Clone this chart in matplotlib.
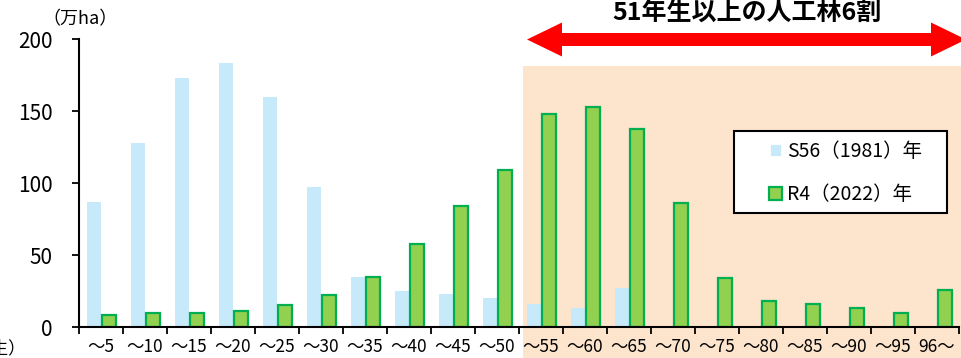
import matplotlib
matplotlib.use("Agg")
import matplotlib.pyplot as plt
from matplotlib.patches import Patch, Rectangle, FancyArrow
import numpy as np

plt.rcParams['font.family'] = ['Noto Sans CJK JP', 'DejaVu Sans']

# 齢級ごとの人工林面積（万ha）
age_labels = ["～5", "～10", "～15", "～20", "～25", "～30", "～35", "～40", "～45", "～50",
              "～55", "～60", "～65", "～70", "～75", "～80", "～85", "～90", "～95", "96～"]
area_1981 = [87, 128, 173, 183, 160, 97, 35, 25, 23, 20,
             16, 13, 27, 0, 0, 0, 0, 0, 0, 0]
area_2022 = [8, 10, 10, 11, 15.5, 22.5, 34.5, 57.5, 84, 109,
             148, 153, 137.5, 86, 34, 18, 16, 13.5, 10, 25.5]

label_1981 = "S56（1981）年"
label_2022 = "R4（2022）年"
title = "51年生以上の人工林6割"

c_1981 = "#C6EAF9"
c_2022 = "#92D050"
c_2022_edge = "#00B050"
c_band = "#FDE4CD"

W, H = 961, 358
fig = plt.figure(figsize=(W / 100, H / 100), dpi=100)
px = fig.dpi_scale_trans  # 1 unit = 100 px

ax = fig.add_axes([79 / W, 31 / H, 880 / W, 288 / H])
ax.patch.set_visible(False)

x = np.arange(len(age_labels))
ax.bar(x - 0.1625, area_1981, width=0.325, color=c_1981, zorder=2)
ax.bar(x + 0.18, area_2022, width=0.31, color=c_2022, edgecolor=c_2022_edge,
       linewidth=1.6, zorder=3)

ax.set_xlim(-0.5, len(age_labels) - 0.5)
ax.set_ylim(0, 200)
ax.set_yticks(range(0, 201, 50))

# 区切りの目盛りは齢級の境界、ラベルは中央
ax.set_xticks(np.arange(-0.5, len(age_labels), 1.0))
ax.set_xticklabels([])
ax.set_xticks(x, minor=True)
ax.set_xticklabels(age_labels, minor=True, fontsize=12.5)
ax.tick_params(axis='x', which='major', direction='out', length=5, width=1.3)
ax.tick_params(axis='x', which='minor', length=0, pad=8)
ax.tick_params(axis='y', direction='out', length=5, width=1.3, pad=14, labelsize=15)

for side in ("top", "right"):
    ax.spines[side].set_visible(False)
for side in ("left", "bottom"):
    ax.spines[side].set_linewidth(1.5)
    ax.spines[side].set_color("black")
    ax.spines[side].set_zorder(4)

# 51年生以上の範囲
fig.add_artist(Rectangle((5.23, 0), 4.40, 2.92, transform=px,
                         facecolor=c_band, edgecolor="none", zorder=-1))

# 両向き矢印（中央で少し重ねる）
mid = (5.27 + 9.66) / 2
for end, start in ((5.27, mid + 0.05), (9.66, mid - 0.05)):
    fig.add_artist(FancyArrow(start, 3.185, end - start, 0, width=0.13,
                              head_width=0.34, head_length=0.35,
                              length_includes_head=True, transform=px,
                              color="#FF0000", linewidth=0))

fig.text(747 / W, 344 / H, title, ha='center', va='center',
         fontsize=18, fontweight='bold')
fig.text(80 / W, (H - 19.5) / H, "（万ha）", ha='center', va='center', fontsize=13)
fig.text(26 / W, 10 / H, "（年生）", ha='right', va='center', fontsize=12.5)

# 凡例
ax.add_patch(Rectangle((7.34, 1.45), 2.13, 0.82, transform=px, clip_on=False,
                       facecolor="white", edgecolor="black", linewidth=1.5, zorder=6))
handles = [Patch(facecolor=c_1981, edgecolor="white", linewidth=2),
           Patch(facecolor=c_2022, edgecolor=c_2022_edge, linewidth=1.6)]
leg = ax.legend(handles, [label_1981, label_2022], loc='center left',
                bbox_to_anchor=(769 / W, (H - 173) / H), bbox_transform=fig.transFigure,
                frameon=False, borderpad=0, borderaxespad=0, fontsize=14,
                handlelength=0.67, handleheight=0.67, handletextpad=0.25,
                labelspacing=1.15)
leg.set_zorder(7)

fig.savefig("out.png", dpi=100)
